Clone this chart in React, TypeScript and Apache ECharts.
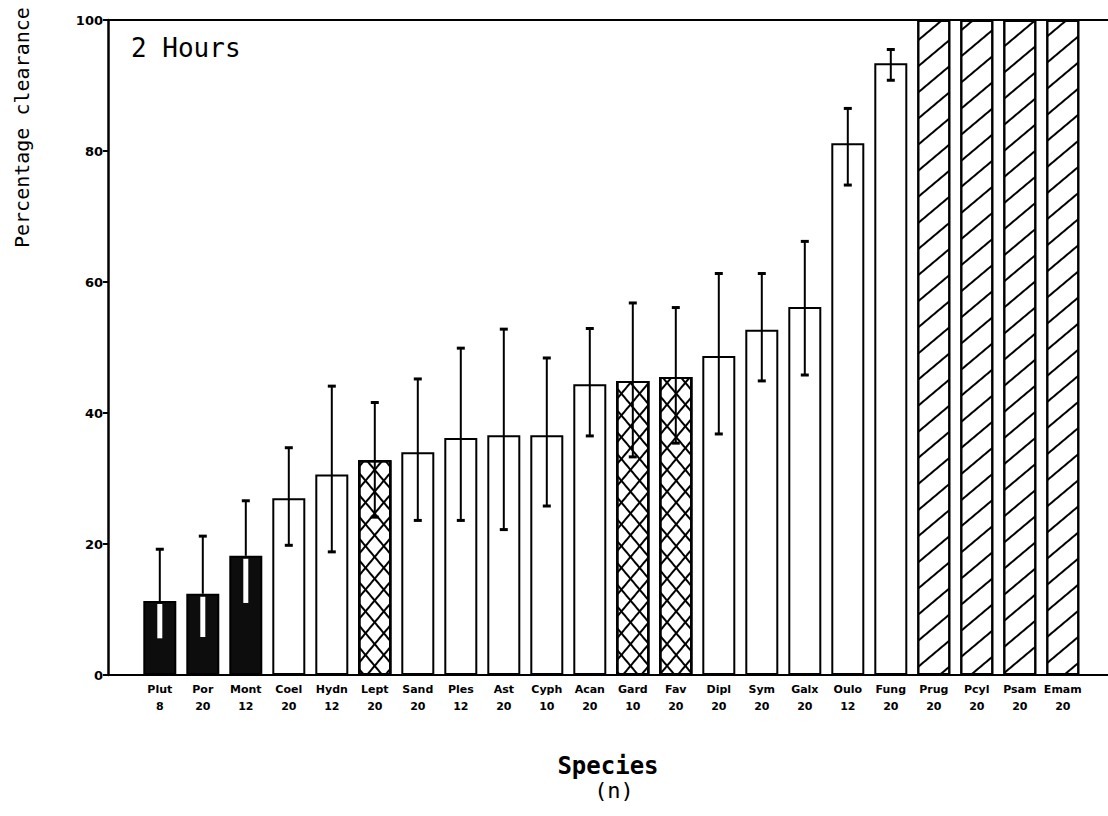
import React, { useEffect, useRef } from "react";
import * as echarts from "echarts";

const species = ["Plut", "Por", "Mont", "Coel", "Hydn", "Lept", "Sand", "Ples", "Ast", "Cyph", "Acan", "Gard", "Fav", "Dipl", "Sym", "Galx", "Oulo", "Fung", "Prug", "Pcyl", "Psam", "Emam"];
const sampleN = [8, 20, 12, 20, 12, 20, 20, 12, 20, 10, 20, 10, 20, 20, 20, 20, 12, 20, 20, 20, 20, 20];
const meanClearance = [11.3, 12.4, 18.2, 27.0, 30.6, 32.8, 34.0, 36.2, 36.6, 36.6, 44.4, 44.9, 45.5, 48.7, 52.7, 56.2, 81.2, 93.4, 100, 100, 100, 100];
const errUpper = [19.2, 21.2, 26.6, 34.7, 44.1, 41.6, 45.2, 49.9, 52.8, 48.4, 52.9, 56.8, 56.1, 61.3, 61.3, 66.2, 86.5, 95.5, null, null, null, null];
const errLower = [5.6, 5.8, 11.0, 19.8, 18.8, 24.1, 23.6, 23.6, 22.2, 25.8, 36.5, 33.3, 35.4, 36.8, 44.9, 45.8, 74.8, 90.8, null, null, null, null];
const barFill = ["solid", "solid", "solid", "open", "open", "cross", "open", "open", "open", "open", "open", "cross", "cross", "open", "open", "open", "open", "open", "hatch", "hatch", "hatch", "hatch"];
const yTicks = [0, 20, 40, 60, 80, 100];

export default function App() {
  const ref = useRef<HTMLDivElement>(null);
  useEffect(() => {
    document.body.style.margin = "0";
    const chart = echarts.init(ref.current!, null, { renderer: "svg" });

    const hatchDecal = {
      symbol: "rect",
      symbolSize: 1,
      dashArrayX: [1, 0],
      dashArrayY: [2, 18],
      rotation: -Math.PI / 4.5,
      color: "#000",
    };
    const crossA = { symbol: "rect", symbolSize: 1, dashArrayX: [1, 0], dashArrayY: [2, 12], rotation: Math.PI / 3.6, color: "#000" };
    const crossB = { ...crossA, rotation: -Math.PI / 3.6 };

    const barData = meanClearance.map((v, i) => {
      const f = barFill[i];
      const itemStyle: any = { borderColor: "#000", borderWidth: 2 };
      if (f === "solid") itemStyle.color = "#0d0d0d";
      else itemStyle.color = "#fff";
      if (f === "hatch") itemStyle.decal = hatchDecal;
      if (f === "cross") itemStyle.decal = crossA;
      return { value: v, itemStyle };
    });
    const crossData = meanClearance.map((v, i) =>
      barFill[i] === "cross" ? { value: v, itemStyle: { color: "rgba(0,0,0,0)", borderColor: "#000", borderWidth: 2, decal: crossB } } : "-"
    );
    const errData = meanClearance
      .map((v, i) => [i, v, errLower[i], errUpper[i], barFill[i] === "solid" ? 1 : 0])
      .filter((d) => d[2] != null);

    const labelFont = { color: "#000", fontFamily: "DejaVu Sans", fontWeight: "bold" as const };

    chart.setOption({
      animation: false,
      backgroundColor: "#fff",
      grid: [
        { left: 108, top: 20, width: 1000, bottom: 141 },
        { left: 138.3, top: 20, width: 946, bottom: 141 },
      ],
      xAxis: [
        {
          gridIndex: 0, type: "value", min: 0, max: 1, position: "bottom",
          axisLine: { show: true, onZero: false, lineStyle: { color: "#000", width: 2 } },
          axisTick: { show: false }, axisLabel: { show: false }, splitLine: { show: false },
          name: "{a|Species}\n{b|(n)}",
          nameLocation: "middle",
          nameGap: 78,
          nameTextStyle: {
            rich: {
              a: { fontFamily: "DejaVu Sans Mono", fontSize: 24, fontWeight: "bold", color: "#000", lineHeight: 25 },
              b: { fontFamily: "DejaVu Sans Mono", fontSize: 22, color: "#000", lineHeight: 25, padding: [0, 0, 0, 12] },
            },
          },
        },
        {
          gridIndex: 0, type: "value", min: 0, max: 1, position: "top",
          axisLine: { show: true, onZero: false, lineStyle: { color: "#000", width: 2 } },
          axisTick: { show: false }, axisLabel: { show: false }, splitLine: { show: false },
        },
        {
          gridIndex: 1, type: "category", data: species,
          axisLine: { show: false }, axisTick: { show: false },
          axisLabel: {
            ...labelFont, fontSize: 11, lineHeight: 17, margin: 6, interval: 0,
            formatter: (v: string, idx: number) => `${v}\n${sampleN[idx]}`,
          },
        },
      ],
      yAxis: [
        {
          gridIndex: 0, type: "value", min: 0, max: 100, interval: 20,
          axisLine: { show: true, lineStyle: { color: "#000", width: 2.5 } },
          axisTick: { show: true, length: 5, lineStyle: { color: "#000", width: 2 } },
          axisLabel: { ...labelFont, fontSize: 13, margin: 5, formatter: (v: number) => (yTicks.includes(v) ? String(v) : "") },
          splitLine: { show: false },
        },
        { gridIndex: 1, type: "value", min: 0, max: 100, show: false },
      ],
      series: [
        {
          type: "bar", xAxisIndex: 2, yAxisIndex: 1, barWidth: 33, data: barData,
        },
        {
          type: "bar", xAxisIndex: 2, yAxisIndex: 1, barWidth: 33, barGap: "-100%", data: crossData, z: 3,
        },
        {
          type: "custom", xAxisIndex: 2, yAxisIndex: 1, z: 5,
          encode: { x: 0, y: [1, 2, 3] },
          data: errData,
          renderItem: (params: any, api: any) => {
            const i = api.value(0);
            const pm = api.coord([i, api.value(1)]);
            const pl = api.coord([i, api.value(2)]);
            const ph = api.coord([i, api.value(3)]);
            const dark = api.value(4) === 1;
            const x = pm[0];
            const hw = 4;
            const children: any[] = [];
            if (dark) {
              children.push({ type: "line", shape: { x1: x, y1: ph[1], x2: x, y2: pm[1] }, style: { stroke: "#000", lineWidth: 2 } });
              children.push({ type: "line", shape: { x1: x, y1: pm[1] + 3, x2: x, y2: pl[1] }, style: { stroke: "#fff", lineWidth: 5 } });
              children.push({ type: "line", shape: { x1: x - hw, y1: ph[1], x2: x + hw, y2: ph[1] }, style: { stroke: "#000", lineWidth: 3 } });
            } else {
              children.push({ type: "line", shape: { x1: x, y1: ph[1], x2: x, y2: pl[1] }, style: { stroke: "#000", lineWidth: 2 } });
              children.push({ type: "line", shape: { x1: x - hw, y1: ph[1], x2: x + hw, y2: ph[1] }, style: { stroke: "#000", lineWidth: 3 } });
              children.push({ type: "line", shape: { x1: x - hw, y1: pl[1], x2: x + hw, y2: pl[1] }, style: { stroke: "#000", lineWidth: 3 } });
            }
            return { type: "group", children };
          },
        },
      ],
      graphic: [
        {
          type: "text", x: 22, y: 248, rotation: Math.PI / 2,
          style: { text: "Percentage clearance", font: '20px "DejaVu Sans Mono"', fill: "#000", align: "left", verticalAlign: "middle" },
        },
        {
          type: "text", x: 131, y: 48,
          style: { text: "2 Hours", font: '26px "DejaVu Sans Mono"', fill: "#000", align: "left", verticalAlign: "middle" },
        },
      ],
    });
    return () => chart.dispose();
  }, []);
  return <div ref={ref} style={{ width: 1108, height: 816 }} />;
}
